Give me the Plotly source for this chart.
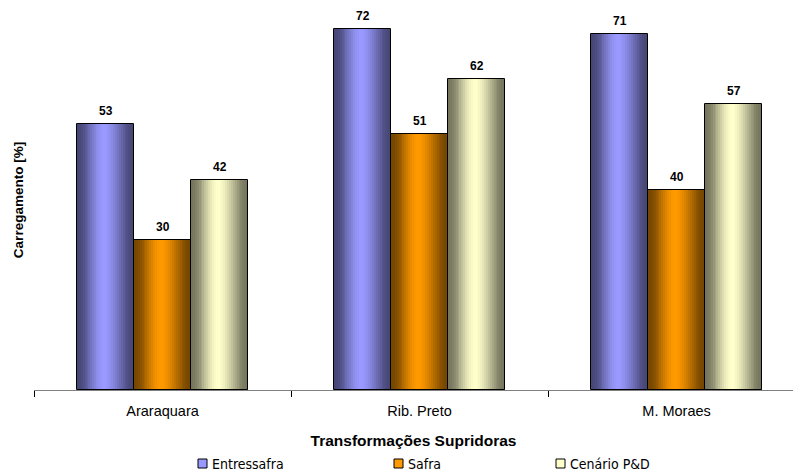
import plotly.graph_objects as go

# Loading (%) of the supply transformers in each scenario
categories = ["Araraquara", "Rib. Preto", "M. Moraes"]
series_names = ["Entressafra", "Safra", "Cenário P&D"]
entressafra = [53, 72, 71]
safra = [30, 51, 40]
cenario_pd = [42, 62, 57]
series_values = [entressafra, safra, cenario_pd]

base_colors = [(153, 153, 255), (255, 153, 0), (255, 255, 204)]
legend_px = [198, 394, 556]   # left edge of each legend swatch (px)

BAR_W = 57 / 257          # bar width in category units
GROUP_START = -85.5 / 257 # left edge of the first bar relative to the category centre
N_STRIPS = 30             # strips used to shade each bar

# plot area in pixels
PL, PR, PT, PB = 34, 793, 10, 390


def shade(rgb, t):
    # dark edges, bright near the middle (cylindrical look)
    peak = 0.47
    u = t / peak if t < peak else (1 - t) / (1 - peak)
    u = max(min(u, 1.0), 0.0)
    g = 0.46 + 0.54 * (3 * u * u - 2 * u * u * u)
    return "rgb({},{},{})".format(*(int(round(c * g)) for c in rgb))


def px_to_paper_x(px):
    return (px - PL) / (PR - PL)


def px_to_paper_y(py):
    return (PB - py) / (PB - PT)


fig = go.Figure()

for j, (name, vals, rgb) in enumerate(zip(series_names, series_values, base_colors)):
    start = GROUP_START + j * BAR_W
    sw = BAR_W / N_STRIPS
    for k in range(N_STRIPS):
        t = (k + 0.5) / N_STRIPS
        fig.add_trace(go.Bar(
            x=categories, y=vals,
            width=sw * 1.1, offset=start + k * sw,
            marker=dict(color=shade(rgb, t), line=dict(width=0)),
            showlegend=False, hoverinfo="skip",
        ))
    # outline of each bar
    fig.add_trace(go.Bar(
        x=categories, y=vals,
        width=BAR_W, offset=start,
        marker=dict(color="rgba(0,0,0,0)", line=dict(color="black", width=1)),
        showlegend=False, name=name,
    ))
    # value labels above bars
    for i, v in enumerate(vals):
        fig.add_annotation(
            x=i + start + BAR_W / 2, y=v, yshift=13,
            text="<b>%d</b>" % v, showarrow=False,
            font=dict(family="Liberation Sans, Arial", size=12, color="black"),
        )
    # legend swatch and label
    x0 = legend_px[j]
    fig.add_shape(
        type="rect", xref="paper", yref="paper",
        x0=px_to_paper_x(x0), x1=px_to_paper_x(x0 + 9),
        y0=px_to_paper_y(468), y1=px_to_paper_y(459),
        fillcolor="rgb({},{},{})".format(*rgb), line=dict(color="black", width=1),
    )
    fig.add_annotation(
        xref="paper", yref="paper",
        x=px_to_paper_x(x0 + 12), y=px_to_paper_y(464),
        xanchor="left", yanchor="middle", showarrow=False,
        text=name,
        font=dict(family="Liberation Sans Narrow, DejaVu Sans Condensed, Liberation Sans", size=14, color="black"),
    )

fig.update_layout(
    width=794, height=475,
    margin=dict(l=PL, r=794 - PR, t=PT, b=475 - PB),
    paper_bgcolor="white", plot_bgcolor="white",
    barmode="overlay", bargap=0, showlegend=False,
    font=dict(family="Liberation Sans, Arial", color="black"),
    xaxis=dict(
        type="category", categoryorder="array", categoryarray=categories,
        range=[-0.5, 2.453],
        showline=True, linecolor="#808080", linewidth=1,
        ticks="outside", tickson="boundaries", ticklen=6, tickcolor="black", tickwidth=1,
        tickfont=dict(size=14.5, color="black"), ticklabelstandoff=8,
        showgrid=False, zeroline=False,
        title=dict(text="<b>Transformações Supridoras</b>", font=dict(size=15.5), standoff=16),
        automargin=False,
    ),
    yaxis=dict(
        range=[0, (PB - PT) / 5.01],
        showline=False, showticklabels=False, ticks="", showgrid=False, zeroline=False,
        title=dict(text="<b>Carregamento [%]</b>", font=dict(size=13.5), standoff=6),
        automargin=False,
    ),
)

fig.write_html("out.html")
